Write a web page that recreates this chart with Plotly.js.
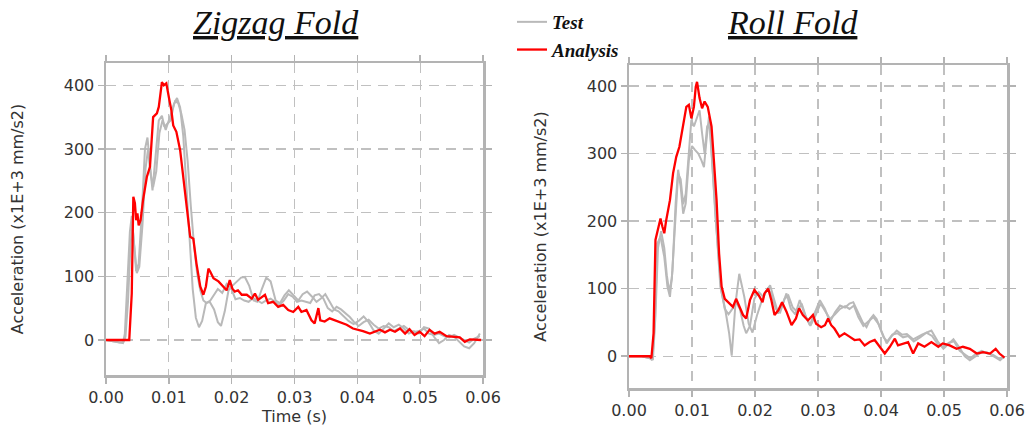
<!DOCTYPE html>
<html>
<head>
<meta charset="utf-8">
<script src="https://cdn.plot.ly/plotly-3.0.1.min.js"></script>
<style>html,body{margin:0;padding:0;background:#fff;}#chart{width:1031px;height:428px;}</style>
</head>
<body>
<div id="chart"></div>
<script>
// ---------- Zigzag Fold ----------
const zzAnaT = [0,0.0037,0.0041,0.00435,0.0046,0.0048,0.005,0.0052,0.0055,0.0059,0.0065,0.007,0.0075,0.0081,0.0084,0.0089,0.0092,0.0096,0.0101,0.0104,0.0107,0.0112,0.0118,0.0123,0.0128,0.0134,0.0139,0.0144,0.015,0.0155,0.0159,0.0163,0.0166,0.0171,0.0179,0.0187,0.0192,0.0197,0.0201,0.0205,0.021,0.0216,0.0224,0.0232,0.0237,0.0242,0.0253,0.0258,0.0266,0.0274,0.0282,0.029,0.0298,0.0306,0.0311,0.0319,0.0327,0.0332,0.0338,0.0341,0.0348,0.0356,0.0364,0.0372,0.0383,0.0393,0.0401,0.0409,0.042,0.0428,0.0436,0.0444,0.0452,0.046,0.0468,0.0476,0.0483,0.0491,0.0499,0.0507,0.0515,0.0523,0.0531,0.0542,0.0553,0.0563,0.0571,0.0579,0.0597];
const zzAnaV = [0,0,73,225,215,188,199,180,188,220,256,272,350,356,366,405,400,403,376,361,337,327,298,256,209,162,159,120,84,71,84,112,107,97,92,84,78,94,81,76,78,71,71,65,73,63,71,58,60,52,55,47,44,52,44,47,31,26,50,31,29,34,31,29,24,18,16,14,10,13,16,12,16,13,18,10,17,8,13,6,16,10,13,6,5,4,-3,1,0];

const zzTestAT = [0,0.001,0.0022,0.0027,0.003,0.0034,0.0038,0.0041,0.0045,0.0048,0.0052,0.0057,0.0062,0.0066,0.007,0.0074,0.0079,0.0084,0.0089,0.0093,0.0098,0.0103,0.0108,0.0113,0.0118,0.0123,0.0128,0.0133,0.0138,0.0143,0.0148,0.0153,0.0159,0.0165,0.0172,0.0178,0.0183,0.0189,0.0195,0.0201,0.0208,0.0215,0.0221,0.0228,0.0235,0.0241,0.0248,0.0255,0.0262,0.027,0.0277,0.0284,0.0291,0.0298,0.0306,0.0313,0.032,0.0328,0.0335,0.0342,0.0349,0.0356,0.0363,0.037,0.0378,0.0386,0.0394,0.0402,0.041,0.0418,0.0426,0.0434,0.0442,0.045,0.0458,0.0466,0.0474,0.0482,0.049,0.0498,0.0506,0.0514,0.0522,0.053,0.0538,0.0546,0.0554,0.0562,0.057,0.0578,0.0586,0.0595];
const zzTestAV = [0,-2,-5,-5,10,90,170,195,150,108,120,200,300,318,275,235,290,345,352,335,340,345,370,380,365,320,240,150,80,35,20,30,58,60,48,28,22,45,78,85,92,98,99,85,62,60,80,98,92,62,58,70,78,70,62,72,76,68,60,65,72,60,48,45,38,30,25,30,37,28,15,10,18,26,20,24,18,10,14,10,20,18,5,-5,0,8,5,-3,-10,-13,-5,10];

const zzTestBT = [0,0.001,0.0022,0.0028,0.0031,0.0035,0.0039,0.0042,0.0046,0.0049,0.0053,0.0058,0.0063,0.0067,0.0071,0.0075,0.008,0.0085,0.009,0.0095,0.01,0.0105,0.011,0.0115,0.012,0.0125,0.013,0.0135,0.014,0.0145,0.015,0.0155,0.016,0.0166,0.0172,0.0178,0.0185,0.0192,0.0199,0.0206,0.0213,0.022,0.0227,0.0234,0.0241,0.0248,0.0255,0.0262,0.0269,0.0276,0.0283,0.029,0.0297,0.0304,0.0311,0.0318,0.0325,0.0332,0.0339,0.0346,0.0353,0.036,0.0367,0.0374,0.0381,0.0388,0.0395,0.0402,0.041,0.0418,0.0426,0.0434,0.0442,0.045,0.0458,0.0466,0.0474,0.0482,0.049,0.0498,0.0506,0.0514,0.0522,0.053,0.0538,0.0546,0.0554,0.0562,0.057,0.0578,0.0586,0.0595];
const zzTestBV = [0,-2,-4,-3,5,60,150,180,130,105,115,180,270,300,260,240,265,325,345,330,345,360,375,372,355,330,280,210,150,105,78,62,58,62,72,80,74,88,82,64,66,62,60,66,62,58,62,65,60,55,62,72,68,60,62,60,58,70,72,65,50,45,52,48,42,36,28,22,28,32,24,18,22,20,14,18,22,16,12,14,18,10,8,10,6,4,8,4,0,-4,2,6];

// ---------- Roll Fold ----------
const rfAnaT = [0,0.0033,0.00355,0.0039,0.0042,0.0046,0.005,0.0053,0.0056,0.0059,0.0065,0.007,0.0075,0.008,0.0086,0.0091,0.0095,0.0099,0.0103,0.0106,0.0108,0.0112,0.0116,0.012,0.0125,0.0131,0.0134,0.0139,0.0143,0.0147,0.0152,0.016,0.0165,0.017,0.0176,0.0181,0.0186,0.0192,0.0199,0.0206,0.0212,0.0215,0.0221,0.0226,0.0231,0.0237,0.0243,0.025,0.0258,0.0265,0.027,0.0276,0.0284,0.0292,0.0297,0.0305,0.0311,0.0316,0.0321,0.0326,0.0334,0.0342,0.035,0.0358,0.0366,0.0374,0.0382,0.039,0.0398,0.0406,0.0414,0.0422,0.0427,0.0435,0.0443,0.0451,0.0459,0.0469,0.048,0.0491,0.0498,0.0509,0.052,0.053,0.0541,0.0552,0.0562,0.0573,0.0582,0.0588,0.0596];
const rfAnaV = [0,0,-3,34,172,187,204,192,182,201,231,271,295,310,342,369,372,352,369,399,406,382,367,377,369,340,300,231,152,103,85,78,73,85,73,61,56,83,98,90,80,93,100,83,61,68,80,66,46,56,71,61,53,61,48,43,46,56,46,41,29,34,29,24,25,16,21,24,14,4,14,26,16,19,21,4,19,14,21,14,19,16,11,14,11,4,6,4,11,4,-2];

const rfTestAT = [0,0.002,0.0033,0.0037,0.0041,0.0045,0.005,0.0056,0.0061,0.0065,0.0069,0.0074,0.0078,0.0082,0.0086,0.009,0.0095,0.01,0.0105,0.011,0.0115,0.0119,0.0123,0.0127,0.0131,0.0136,0.014,0.0145,0.0153,0.0159,0.0163,0.0169,0.0175,0.0183,0.019,0.0196,0.0203,0.021,0.0217,0.0224,0.023,0.0237,0.0243,0.025,0.0257,0.0264,0.0271,0.0279,0.0287,0.0295,0.0303,0.0311,0.0319,0.0327,0.0335,0.0343,0.035,0.0356,0.0364,0.0371,0.0377,0.0383,0.0388,0.0393,0.0398,0.0404,0.0409,0.0417,0.0425,0.0433,0.0441,0.0451,0.0465,0.048,0.049,0.0499,0.0507,0.0515,0.0525,0.0533,0.0541,0.055,0.0558,0.0568,0.0578,0.0589,0.0596];
const rfTestAV = [0,0,-3,-6,50,167,177,147,103,88,127,226,276,251,211,226,290,311,305,300,290,280,320,355,300,230,177,103,68,34,1,78,122,88,48,35,60,80,95,105,85,63,75,93,70,62,83,62,46,65,83,70,51,65,75,72,78,80,65,50,43,55,61,55,43,30,19,30,38,32,33,25,32,38,22,11,18,25,12,0,-6,0,5,6,0,-6,0];

const rfTestBT = [0,0.002,0.0034,0.0038,0.0042,0.0046,0.0051,0.0056,0.006,0.0064,0.0068,0.0073,0.0078,0.0082,0.0086,0.009,0.0095,0.0099,0.0103,0.0108,0.0112,0.0116,0.012,0.0124,0.0128,0.0132,0.0137,0.0142,0.0147,0.0152,0.0158,0.0164,0.017,0.0176,0.0182,0.0186,0.0192,0.0199,0.0206,0.0213,0.022,0.0226,0.0233,0.024,0.0247,0.0253,0.026,0.0267,0.0274,0.0281,0.0288,0.0296,0.0304,0.0312,0.0319,0.0327,0.0335,0.0343,0.035,0.0357,0.0364,0.0372,0.038,0.0388,0.0396,0.0404,0.041,0.0418,0.0426,0.0435,0.0443,0.0452,0.0462,0.0472,0.0481,0.049,0.0499,0.0508,0.0516,0.0525,0.0534,0.0542,0.0551,0.056,0.0569,0.0578,0.0587,0.0596];
const rfTestBV = [0,0,-3,-4,60,160,185,160,120,95,115,200,270,262,225,240,300,350,340,355,364,330,300,340,345,290,210,150,95,70,62,70,80,70,45,34,45,85,95,88,100,92,70,65,85,90,72,66,78,58,45,60,78,66,55,62,70,74,70,75,58,45,52,58,48,28,22,32,34,28,30,22,28,35,30,18,14,20,22,8,2,-3,4,8,4,2,-3,-2];

const xTickVals = [0,0.01,0.02,0.03,0.04,0.05,0.06];
const xTickText = ["0.00","0.01","0.02","0.03","0.04","0.05","0.06"];
const yTickVals = [0,100,200,300,400];
const yTickText = ["0","100","200","300","400"];
const titles = ["Zigzag Fold","Roll Fold"];
const yTitle = "Acceleration (x1E+3 mm/s2)";
const xTitle = "Time (s)";

const GREY = "#b9b9b9", RED = "#ff0000";
const traces = [
  {x: zzTestAT, y: zzTestAV, name: "Test", legendgroup: "test", showlegend: true, xaxis: "x", yaxis: "y", line: {color: GREY, width: 2}},
  {x: zzTestBT, y: zzTestBV, name: "Test", legendgroup: "test", showlegend: false, xaxis: "x", yaxis: "y", line: {color: GREY, width: 2}},
  {x: rfTestAT, y: rfTestAV, name: "Test", legendgroup: "test", showlegend: false, xaxis: "x2", yaxis: "y2", line: {color: GREY, width: 2}},
  {x: rfTestBT, y: rfTestBV, name: "Test", legendgroup: "test", showlegend: false, xaxis: "x2", yaxis: "y2", line: {color: GREY, width: 2}},
  {x: zzAnaT, y: zzAnaV, name: "Analysis", legendgroup: "ana", showlegend: true, xaxis: "x", yaxis: "y", line: {color: RED, width: 2.3}},
  {x: rfAnaT, y: rfAnaV, name: "Analysis", legendgroup: "ana", showlegend: false, xaxis: "x2", yaxis: "y2", line: {color: RED, width: 2.3}}
].map(t => Object.assign({type: "scatter", mode: "lines", hoverinfo: "skip"}, t));

const FRAME = "#b3b3b3";
const tickFont = {family: "DejaVu Sans", size: 16, color: "#333"};
function xAx(domain, anchor, withTitle) {
  const a = {
    domain: domain, anchor: anchor, range: [0, 0.06],
    tickmode: "array", tickvals: xTickVals, ticktext: xTickText,
    showline: true, linecolor: FRAME, linewidth: 2.5, mirror: "ticks",
    ticks: "outside", ticklen: 6, tickwidth: 1.5, tickcolor: FRAME,
    showgrid: true, gridcolor: "#c0c0c0", gridwidth: 1.3, griddash: "10px,7px",
    zeroline: false, tickfont: tickFont, automargin: false, fixedrange: true
  };
  if (withTitle) a.title = {text: xTitle, font: {family: "DejaVu Sans", size: 16, color: "#333"}, standoff: 2};
  return a;
}
function yAx(domain, anchor, range) {
  return {
    domain: domain, anchor: anchor, range: range,
    tickmode: "array", tickvals: yTickVals, ticktext: yTickText,
    showline: true, linecolor: FRAME, linewidth: 2.5, mirror: "ticks",
    ticks: "outside", ticklen: 6, tickwidth: 1.5, tickcolor: FRAME,
    showgrid: true, gridcolor: "#c0c0c0", gridwidth: 1.3, griddash: "10px,7px",
    zeroline: false, tickfont: tickFont, automargin: false, fixedrange: true,
    title: {text: yTitle, font: {family: "DejaVu Sans", size: 16, color: "#333"}, standoff: 36}
  };
}
const W = 1031, H = 428;
const layout = {
  width: W, height: H,
  margin: {l: 0, r: 0, t: 0, b: 0},
  paper_bgcolor: "#fff", plot_bgcolor: "#fff",
  showlegend: true,
  legend: {
    x: 512 / W, y: 1 - 3 / H, xanchor: "left", yanchor: "top",
    bgcolor: "rgba(0,0,0,0)", tracegroupgap: 0,
    font: {family: "Liberation Serif", size: 19, color: "#111", weight: "bold", style: "italic"}
  },
  xaxis: xAx([106 / W, 483 / W], "y", true),
  yaxis: yAx([1 - 375 / H, 1 - 63 / H], "x", [-55, 435]),
  xaxis2: xAx([629 / W, 1007 / W], "y2", false),
  yaxis2: yAx([1 - 388 / H, 1 - 65 / H], "x2", [-47, 431]),
  annotations: [
    {text: titles[0], x: 276 / W, y: 1 - 23 / H, xref: "paper", yref: "paper", xanchor: "center", yanchor: "middle", showarrow: false,
     font: {family: "Liberation Serif", size: 34, color: "#111", style: "italic", lineposition: "under"}},
    {text: titles[1], x: 792 / W, y: 1 - 23 / H, xref: "paper", yref: "paper", xanchor: "center", yanchor: "middle", showarrow: false,
     font: {family: "Liberation Serif", size: 34, color: "#111", style: "italic", lineposition: "under"}}
  ]
};
Plotly.newPlot("chart", traces, layout, {staticPlot: true, displayModeBar: false});
</script>
</body>
</html>
